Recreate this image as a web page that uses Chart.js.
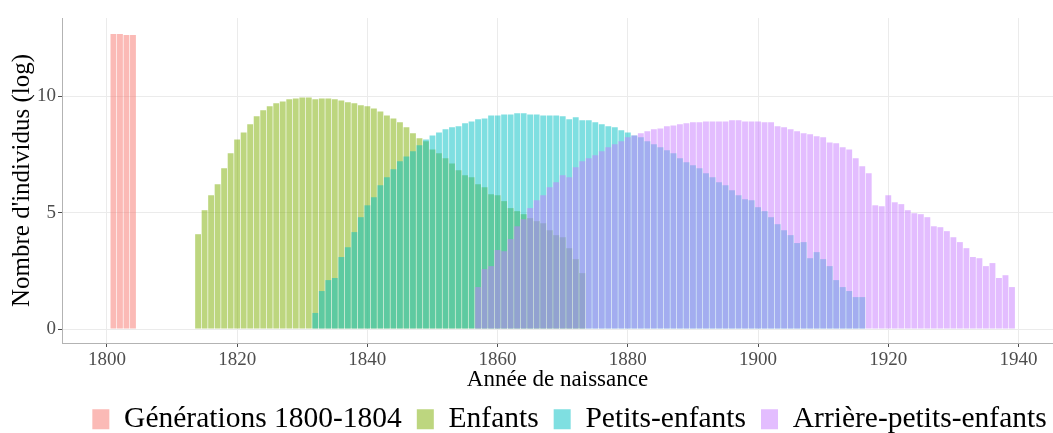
<!DOCTYPE html>
<html>
<head>
<meta charset="utf-8">
<script src="https://cdn.jsdelivr.net/npm/chart.js@4/dist/chart.umd.min.js"></script>
<style>
  body { margin: 0; background: #fff; }
</style>
</head>
<body>
<canvas id="birthChart" width="1053" height="433"></canvas>
<script>
// years (categories) and log counts per generation
const genYears = [1801, 1802, 1803, 1804];
const genValues = [12.66, 12.66, 12.62, 12.62];

const enfantsFirstYear = 1814;
const enfantsValues = [
  4.07, 5.1, 5.74, 6.21, 6.9, 7.54, 8.14, 8.44, 8.79, 9.13,
  9.39, 9.56, 9.69, 9.77, 9.86, 9.9, 9.94, 9.94, 9.86, 9.9,
  9.9, 9.86, 9.81, 9.73, 9.69, 9.6, 9.56, 9.47, 9.34, 9.17,
  9.04, 8.87, 8.66, 8.4, 8.19, 8.06, 7.71, 7.54, 7.33, 7.11,
  6.81, 6.6, 6.51, 6.21, 6.09, 5.79, 5.74, 5.49, 5.19, 5.06,
  4.93, 4.76, 4.63, 4.54, 4.24, 4.03, 3.94, 3.47, 3.0, 2.4
];

const petitsFirstYear = 1832;
const petitsValues = [
  0.69, 1.63, 2.1, 2.19, 3.09, 3.51, 4.16, 4.8, 5.31, 5.66,
  6.17, 6.51, 6.86, 7.2, 7.41, 7.63, 7.89, 8.14, 8.31, 8.44,
  8.57, 8.66, 8.7, 8.83, 8.91, 9.0, 9.04, 9.17, 9.17, 9.21,
  9.21, 9.26, 9.26, 9.21, 9.21, 9.17, 9.17, 9.17, 9.13, 9.0,
  9.09, 8.96, 8.96, 8.87, 8.79, 8.7, 8.66, 8.53, 8.44, 8.31,
  8.23, 8.06, 7.93, 7.8, 7.67, 7.54, 7.33, 7.16, 7.03, 6.9,
  6.69, 6.51, 6.3, 6.17, 5.96, 5.74, 5.57, 5.53, 5.23, 5.06,
  4.8, 4.5, 4.24, 4.03, 3.69, 3.73, 3.04, 3.3, 3.0, 2.7,
  2.1, 1.8, 1.63, 1.37, 1.37
];

const arriereFirstYear = 1857;
const arriereValues = [
  1.8, 2.57, 2.7, 3.39, 3.34, 3.86, 4.41, 4.71, 5.19, 5.53,
  5.74, 6.09, 6.3, 6.6, 6.51, 6.94, 7.2, 7.33, 7.46, 7.63,
  7.8, 7.93, 8.06, 8.23, 8.31, 8.4, 8.49, 8.57, 8.61, 8.7,
  8.74, 8.79, 8.83, 8.87, 8.87, 8.91, 8.91, 8.91, 8.91, 8.96,
  8.96, 8.91, 8.91, 8.91, 8.87, 8.87, 8.7, 8.66, 8.57, 8.49,
  8.4, 8.36, 8.27, 8.23, 8.01, 7.97, 7.8, 7.71, 7.33, 6.99,
  6.69, 5.31, 5.27, 5.74, 5.44, 5.36, 5.1, 4.97, 4.93, 4.8,
  4.41, 4.37, 4.2, 3.94, 3.73, 3.47, 3.09, 3.04, 2.7, 2.83,
  2.19, 2.31, 1.8
];

const seriesLabels = ["Générations 1800-1804", "Enfants", "Petits-enfants", "Arrière-petits-enfants"];
const xTicks = [1800, 1820, 1840, 1860, 1880, 1900, 1920, 1940];
const yTicks = [0, 5, 10];

const toPoints = (firstYear, values) => values.map((v, i) => ({ x: firstYear + i, y: v }));

// ggplot default hues, alpha 0.5
const colors = [
  "rgba(248, 118, 109, 0.5)",
  "rgba(124, 174, 0, 0.5)",
  "rgba(0, 191, 196, 0.5)",
  "rgba(199, 124, 255, 0.5)"
];

const serif = "'Liberation Serif', 'Times New Roman', serif";

// move the legend down/right to where ggplot put it
const legendShift = {
  id: "legendShift",
  afterLayout(chart) {
    chart.legend.top += 11;
    chart.legend.bottom += 11;
    chart.legend.left += 43;
    chart.legend.right += 43;
  }
};

Chart.defaults.font.family = serif;

const barDefaults = { barPercentage: 0.9, categoryPercentage: 1.0, grouped: false, borderWidth: 0 };

const ctx = document.getElementById("birthChart").getContext("2d");
const birthChart = new Chart(ctx, {
  type: "bar",
  data: {
    datasets: [
      { label: seriesLabels[0], data: genYears.map((yr, i) => ({ x: yr, y: genValues[i] })), backgroundColor: colors[0], order: 4, ...barDefaults },
      { label: seriesLabels[1], data: toPoints(enfantsFirstYear, enfantsValues), backgroundColor: colors[1], order: 3, ...barDefaults },
      { label: seriesLabels[2], data: toPoints(petitsFirstYear, petitsValues), backgroundColor: colors[2], order: 2, ...barDefaults },
      { label: seriesLabels[3], data: toPoints(arriereFirstYear, arriereValues), backgroundColor: colors[3], order: 1, ...barDefaults }
    ]
  },
  options: {
    responsive: false,
    animation: false,
    layout: { padding: { top: 18, right: 0, left: 0, bottom: 0 } },
    scales: {
      x: {
        type: "linear",
        offset: false,
        min: 1793.1,
        max: 1945.3,
        afterBuildTicks: (scale) => { scale.ticks = xTicks.map((v) => ({ value: v })); },
        afterFit: (scale) => { scale.height = 35.5; },
        grid: { color: "#ebebeb", lineWidth: 1, tickColor: "#4d4d4d", tickLength: 4, offset: false },
        border: { color: "#b3b3b3", width: 1 },
        ticks: { color: "#4d4d4d", font: { family: serif, size: 19 }, padding: 2, maxRotation: 0, callback: (v) => String(v) },
        title: { display: true, text: "Année de naissance", color: "#000", font: { family: serif, size: 23, lineHeight: 1 }, padding: { top: 0, bottom: -13 } }
      },
      y: {
        min: -0.6,
        max: 13.35,
        afterBuildTicks: (scale) => { scale.ticks = yTicks.map((v) => ({ value: v })); },
        afterFit: (scale) => { scale.width = 62; },
        grid: { color: "#ebebeb", lineWidth: 1, tickColor: "#4d4d4d", tickLength: 4 },
        border: { color: "#b3b3b3", width: 1 },
        ticks: { color: "#4d4d4d", font: { family: serif, size: 19 }, padding: 2 },
        title: { display: true, text: "Nombre d'individus (log)", color: "#000", font: { family: serif, size: 25, lineHeight: 1 }, padding: { top: 10, bottom: 0 } }
      }
    },
    plugins: {
      legend: {
        position: "bottom",
        labels: {
          boxWidth: 17,
          boxHeight: 20,
          padding: 15,
          color: "#000",
          font: { family: serif, size: 29.5 },
          sort: (a, b) => a.datasetIndex - b.datasetIndex
        }
      },
      tooltip: { enabled: false }
    }
  },
  plugins: [legendShift]
});
</script>
</body>
</html>
